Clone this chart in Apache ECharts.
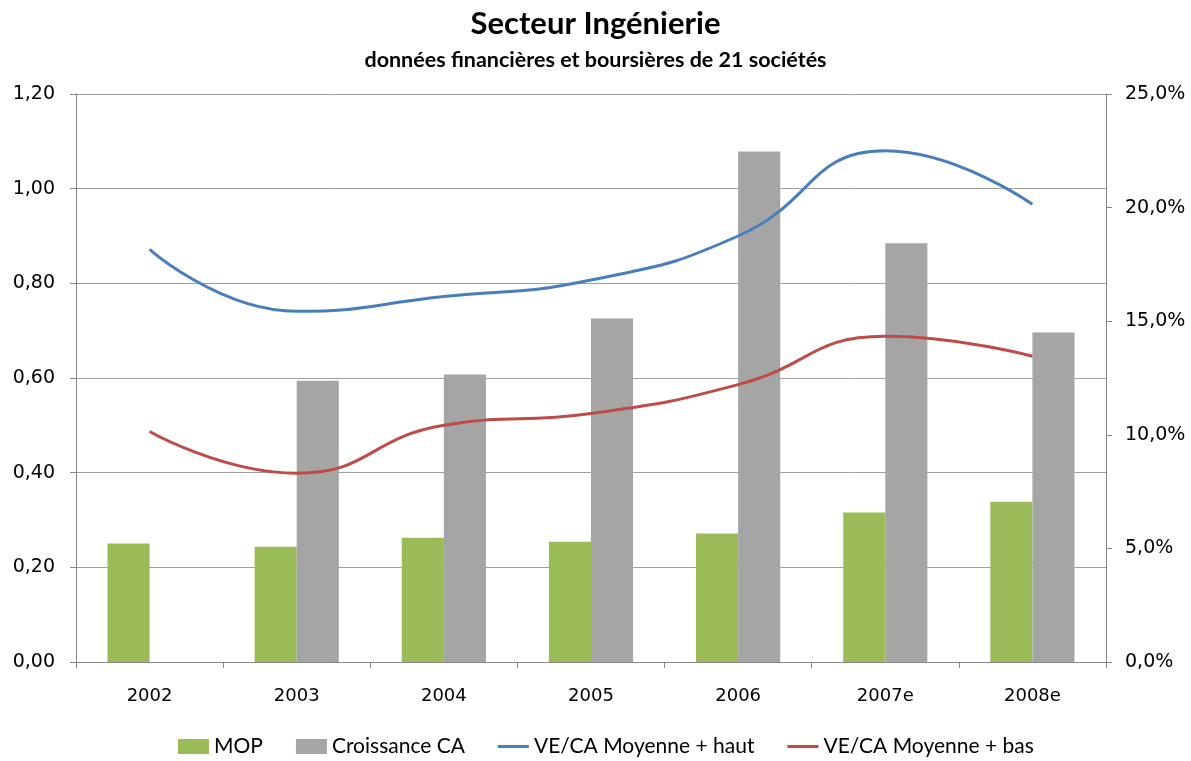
<!DOCTYPE html>
<html>
<head>
<meta charset="utf-8">
<script src="https://cdn.jsdelivr.net/npm/echarts@6/dist/echarts.min.js"></script>
<style>
html,body{margin:0;padding:0;background:#fff;}
#chart{width:1191px;height:761px;}
</style>
</head>
<body>
<div id="chart"></div>
<script>
const categories = ['2002', '2003', '2004', '2005', '2006', '2007e', '2008e'];
const mop = [5.22, 5.07, 5.47, 5.29, 5.66, 6.58, 7.05];
const croissanceCA = [null, 12.38, 12.65, 15.12, 22.47, 18.43, 14.50];
const veCaHaut = [0.872, 0.741, 0.772, 0.807, 0.900, 1.080, 0.967];
const veCaBas = [0.487, 0.399, 0.500, 0.525, 0.586, 0.688, 0.646];
const seriesNames = ['MOP', 'Croissance CA', 'VE/CA Moyenne + haut', 'VE/CA Moyenne + bas'];

const chart = echarts.init(document.getElementById('chart'));
const textFont = 'Lato, "Open Sans", sans-serif';
const tickFont = '"DejaVu Sans", Verdana, sans-serif';
const axisGray = '#868686';
const lineIcon = 'path://M0 0 H30 V3 H0 Z';

chart.setOption({
  animation: false,
  backgroundColor: '#ffffff',
  title: [
    {
      text: 'Secteur Ingénierie',
      left: 'center',
      top: 3,
      textStyle: {fontFamily: textFont, fontWeight: 'bold', fontSize: 31, color: '#000'}
    },
    {
      text: 'données financières et boursières de 21 sociétés',
      left: 'center',
      top: 44,
      textStyle: {fontFamily: textFont, fontWeight: 'bold', fontSize: 21.5, color: '#000'}
    }
  ],
  legend: {
    top: 736,
    left: 178,
    padding: 0,
    itemGap: 33,
    itemWidth: 31,
    itemHeight: 15,
    symbolKeepAspect: true,
    textStyle: {fontFamily: textFont, fontSize: 21, color: '#000'},
    data: [
      {name: seriesNames[0], icon: 'rect'},
      {name: seriesNames[1], icon: 'rect'},
      {name: seriesNames[2], icon: lineIcon},
      {name: seriesNames[3], icon: lineIcon}
    ]
  },
  grid: {left: 76, right: 85, top: 94, bottom: 99, containLabel: false},
  xAxis: {
    type: 'category',
    data: categories,
    boundaryGap: true,
    axisLine: {lineStyle: {color: axisGray, width: 1}},
    axisTick: {show: true, alignWithLabel: false, length: 6, lineStyle: {color: axisGray}},
    axisLabel: {fontFamily: tickFont, fontSize: 18, color: '#000', margin: 25}
  },
  yAxis: [
    {
      type: 'value',
      min: 0, max: 1.2, interval: 0.2,
      position: 'left',
      axisLine: {show: true, lineStyle: {color: axisGray}},
      axisTick: {show: true, length: 6, lineStyle: {color: axisGray}},
      splitLine: {show: true, lineStyle: {color: '#a0a0a0', width: 1}},
      axisLabel: {
        fontFamily: tickFont, fontSize: 19, color: '#000', margin: 21,
        formatter: v => v.toFixed(2).replace('.', ',')
      }
    },
    {
      type: 'value',
      min: 0, max: 25, interval: 5,
      position: 'right',
      axisLine: {show: true, lineStyle: {color: axisGray}},
      axisTick: {show: true, length: 6, lineStyle: {color: axisGray}},
      splitLine: {show: false},
      axisLabel: {
        fontFamily: tickFont, fontSize: 19, color: '#000', margin: 19,
        formatter: v => v.toFixed(1).replace('.', ',') + '%'
      }
    }
  ],
  series: [
    {
      name: seriesNames[0], type: 'bar', yAxisIndex: 1,
      data: mop, barWidth: '28.6%', barGap: '0%',
      itemStyle: {color: '#9bbb59'}
    },
    {
      name: seriesNames[1], type: 'bar', yAxisIndex: 1,
      data: croissanceCA, barWidth: '28.6%', barGap: '0%',
      itemStyle: {color: '#a5a5a5'}
    },
    {
      name: seriesNames[2], type: 'line', yAxisIndex: 0,
      data: veCaHaut, smooth: 0.5, symbol: 'none',
      lineStyle: {color: '#4a7ebb', width: 3},
      itemStyle: {color: '#4a7ebb'}
    },
    {
      name: seriesNames[3], type: 'line', yAxisIndex: 0,
      data: veCaBas, smooth: 0.5, symbol: 'none',
      lineStyle: {color: '#be4b48', width: 3},
      itemStyle: {color: '#be4b48'}
    }
  ]
});
</script>
</body>
</html>
